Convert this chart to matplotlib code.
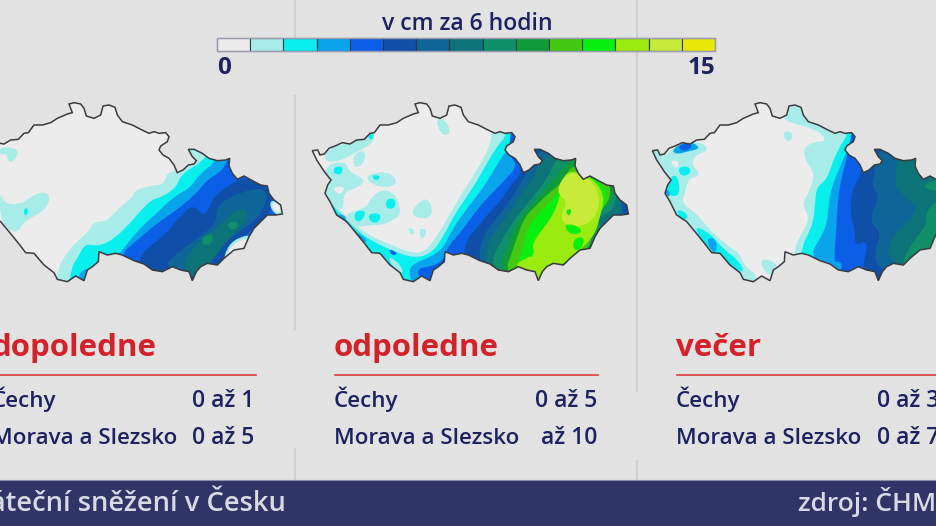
import matplotlib
matplotlib.use("Agg")
from matplotlib import pyplot as plt
from matplotlib.patches import PathPatch, Polygon, Rectangle
from matplotlib.path import Path

plt.rcParams['font.family'] = ['Open Sans', 'DejaVu Sans']

# legend
legend_title = "v cm za 6 hodin"
legend_min = "0"
legend_max = "15"
legend_colors = ["#ececec", "#a8ecea", "#08efee", "#0aa4ec", "#0a5fe6", "#0f4fa8", "#0e6698", "#0c7478",
                 "#109068", "#0f9c38", "#44c812", "#08f010", "#9bea10", "#c8ea38", "#eae808"]

# panel texts
periods = ["dopoledne", "odpoledne", "večer"]
regions = ["Čechy", "Morava a Slezsko"]
amounts_cechy = ["0 až 1", "0 až 5", "0 až 3"]
amounts_morava = ["0 až 5", "až 10", "0 až 7"]
footer_left = "Páteční sněžení v Česku"
footer_right = "zdroj: ČHMÚ"

# border of the country, map units (1/3 px)
border = [(22, 182), (38, 180), (45, 195), (58, 192), (72, 175), (90, 168), (112, 158), (135, 162), (155, 150),
          (178, 148), (195, 130), (208, 128), (225, 105), (250, 105), (275, 98), (295, 85), (325, 72), (340, 68),
          (330, 42), (345, 38), (365, 42), (375, 55), (382, 78), (405, 85), (425, 75), (432, 48), (450, 45),
          (468, 52), (475, 75), (490, 95), (520, 105), (545, 118), (570, 130), (585, 125), (600, 130), (620, 128),
          (630, 140), (625, 155), (605, 168), (600, 180), (612, 195), (630, 205), (645, 225), (655, 248), (672, 240),
          (688, 225), (705, 222), (712, 212), (700, 200), (688, 178), (705, 178), (730, 190), (750, 205), (775, 212),
          (800, 210), (812, 205), (810, 228), (820, 250), (835, 268), (855, 258), (880, 272), (905, 285), (925, 288),
          (930, 310), (945, 330), (965, 345), (970, 372), (950, 375), (925, 375), (905, 395), (885, 415), (870, 440),
          (855, 475), (825, 480), (795, 505), (775, 525), (745, 520), (725, 530), (712, 545), (700, 572), (690, 545),
          (665, 540), (640, 530), (610, 545), (580, 540), (555, 522), (525, 512), (490, 495), (470, 490), (445, 495),
          (420, 485), (418, 515), (400, 530), (385, 540), (375, 572), (350, 558), (325, 575), (295, 568), (285, 548),
          (255, 525), (225, 490), (200, 488), (180, 462), (150, 425), (125, 395), (95, 375), (75, 335), (60, 310),
          (68, 285), (78, 270), (58, 245), (45, 225), (35, 210)]

# snowfall zones, (legend class, outline), painted in this order
zones_morning = [
    (1, [(0, 170), (50, 175), (55, 195), (35, 218), (22, 210), (20, 190), (0, 195)]),
    (1, [(0, 300), (10, 340), (60, 345), (115, 305), (150, 312), (145, 345), (120, 370), (70, 395), (50, 435), (0, 395)]),
    (2, [(72, 355), (85, 355), (82, 376), (72, 376)]),
    (1, [(520, 215), (530, 240), (500, 250), (490, 285), (460, 285), (405, 300), (400, 320), (350, 360), (320, 395),
         (280, 395), (270, 420), (225, 460), (200, 490), (175, 530), (165, 600), (1000, 600), (1000, 100), (560, 100)]),
    (2, [(625, 205), (545, 250), (530, 290), (490, 320), (450, 330), (390, 400), (350, 440), (300, 470), (255, 460),
         (235, 500), (215, 530), (205, 600), (1000, 600), (1000, 100), (660, 100)]),
    (3, [(650, 215), (600, 250), (570, 295), (520, 320), (470, 370), (430, 405), (390, 450), (360, 490), (340, 490),
         (340, 600), (1000, 600), (1000, 100), (680, 100)]),
    (3, [(225, 565), (265, 525), (285, 600)]),
    (4, [(685, 230), (620, 270), (590, 310), (530, 360), (470, 400), (400, 460), (360, 495), (400, 600), (1000, 600),
         (1000, 100), (700, 100)]),
    (5, [(735, 260), (680, 290), (640, 320), (615, 385), (580, 340), (530, 390), (490, 440), (420, 490), (420, 530),
         (600, 600), (660, 520), (680, 490), (750, 420), (790, 400), (820, 340), (810, 295)]),
    (6, [(800, 295), (740, 300), (650, 340), (650, 400), (600, 440), (530, 490), (490, 530), (580, 570), (640, 510),
         (690, 440), (760, 400), (800, 340)]),
    (7, [(730, 350), (680, 380), (650, 420), (620, 430), (550, 510), (560, 545), (590, 570), (650, 490), (700, 430),
         (750, 380)]),
    (8, [(685, 395), (715, 395), (712, 418), (685, 418)]),
    (8, [(608, 438), (642, 432), (632, 465), (606, 465)]),
    (1, [(805, 330), (850, 335), (855, 378), (820, 372)]),
    (0, [(815, 335), (842, 345), (840, 370), (820, 362)]),
    (1, [(760, 435), (720, 440), (685, 465), (668, 515), (705, 500), (752, 485)]),
    (0, [(752, 445), (720, 450), (690, 472), (682, 495), (712, 490), (745, 476)]),
]

zones_afternoon = [
    (1, [(560, 120), (555, 170), (510, 250), (470, 310), (430, 380), (395, 440), (360, 485), (320, 490), (260, 465),
         (200, 440), (150, 405), (110, 365), (70, 320), (40, 200), (0, 200), (0, 650), (1100, 650), (1100, 0), (560, 0)]),
    (1, [(60, 190), (95, 165), (155, 155), (205, 130), (210, 155), (150, 190), (100, 215), (60, 215)]),
    (1, [(145, 190), (185, 180), (175, 225), (145, 235)]),
    (1, [(75, 220), (125, 215), (130, 245), (185, 270), (155, 295), (115, 305), (115, 365), (90, 345), (60, 310), (65, 280), (55, 250)]),
    (1, [(190, 250), (255, 245), (280, 280), (240, 295), (185, 275)]),
    (1, [(195, 325), (235, 295), (275, 315), (290, 375), (255, 395), (230, 405), (195, 405), (135, 415), (115, 370), (185, 355)]),
    (1, [(315, 362), (368, 315), (388, 380), (338, 388)]),
    (1, [(390, 90), (418, 85), (440, 128), (412, 140)]),
    (1, [(305, 412), (330, 418), (322, 440)]),
    (1, [(340, 415), (370, 418), (350, 455)]),
    (0, [(85, 290), (120, 290), (112, 310), (92, 310)]),
    (2, [(86, 230), (114, 230), (110, 254), (86, 252)]),
    (2, [(198, 254), (230, 258), (212, 275)]),
    (2, [(244, 326), (272, 326), (270, 356), (242, 356)]),
    (2, [(190, 370), (230, 370), (220, 400), (194, 395)]),
    (2, [(150, 362), (185, 362), (170, 395), (148, 392)]),
    (2, [(185, 130), (210, 130), (198, 155)]),
    (2, [(610, 130), (575, 170), (540, 230), (500, 300), (450, 370), (415, 440), (380, 490), (330, 505), (270, 485),
         (225, 465), (180, 440), (150, 415), (120, 385), (85, 350), (60, 310), (0, 310), (0, 650), (1100, 650), (1100, 0), (610, 0)]),
    (0, [(90, 295), (115, 295), (112, 310), (95, 310)]),
    (3, [(630, 155), (600, 185), (570, 235), (530, 300), (490, 350), (440, 420), (415, 475), (370, 505), (325, 520),
         (310, 545), (330, 600), (1100, 650), (1100, 0), (640, 0)]),
    (3, [(95, 370), (125, 378), (118, 402)]),
    (3, [(145, 420), (190, 450), (172, 462)]),
    (4, [(250, 475), (280, 490), (262, 498)]),
    (1, [(248, 495), (288, 525), (295, 555), (262, 530)]),
    (4, [(605, 190), (640, 225), (600, 270), (560, 310), (515, 360), (480, 410), (450, 445), (420, 485), (415, 510),
         (380, 530), (335, 535), (345, 565), (375, 600), (1100, 650), (1100, 0), (640, 0)]),
    (5, [(655, 245), (620, 280), (590, 330), (550, 370), (520, 410), (490, 440), (470, 500), (560, 650), (1100, 650), (1100, 0), (680, 0)]),
    (6, [(700, 170), (672, 240), (640, 290), (610, 340), (570, 390), (535, 435), (515, 520), (640, 650), (900, 500),
         (950, 400), (958, 370), (945, 320), (900, 200)]),
    (7, [(725, 195), (700, 225), (690, 260), (650, 310), (620, 360), (590, 400), (550, 450), (535, 530), (650, 650),
         (880, 470), (910, 395), (945, 372), (948, 340), (940, 270), (820, 180)]),
    (8, [(760, 195), (730, 260), (700, 300), (660, 350), (620, 400), (590, 450), (550, 530), (660, 650), (860, 480),
         (880, 430), (890, 400), (860, 385), (915, 370), (935, 330), (930, 270), (820, 180)]),
    (9, [(810, 200), (770, 240), (730, 290), (690, 335), (650, 375), (630, 410), (610, 470), (580, 545), (670, 650),
         (855, 470), (875, 400), (860, 375), (925, 340), (925, 280), (830, 220)]),
    (10, [(800, 225), (770, 280), (730, 310), (690, 350), (660, 380), (640, 430), (620, 490), (600, 545), (680, 640),
          (800, 510), (850, 480), (865, 420), (860, 375), (915, 340), (915, 265), (830, 240)]),
    (11, [(790, 240), (760, 310), (725, 345), (680, 395), (660, 440), (650, 500), (625, 545), (700, 630), (760, 530),
          (830, 480), (865, 400), (900, 350), (905, 300), (860, 255)]),
    (12, [(780, 235), (865, 262), (900, 320), (885, 380), (870, 435), (815, 490), (770, 525), (735, 535), (720, 590),
          (675, 560), (625, 525), (665, 505), (690, 490), (680, 465), (710, 420), (745, 375), (765, 320)]),
    (13, [(790, 240), (862, 270), (885, 320), (875, 380), (830, 412), (775, 405), (768, 370), (790, 335), (750, 305)]),
    (11, [(775, 402), (815, 405), (835, 428), (795, 435)]),
    (11, [(780, 360), (802, 356), (792, 382)]),
    (11, [(805, 445), (840, 440), (830, 478), (805, 482)]),
    (11, [(665, 490), (685, 485), (680, 505)]),
]

zones_evening = [
    (1, [(60, 205), (85, 170), (160, 150), (195, 180), (150, 195), (140, 225), (170, 255), (130, 265), (120, 310),
         (110, 340), (155, 370), (185, 410), (250, 470), (285, 490), (300, 530), (335, 555), (340, 600), (0, 600), (0, 150)]),
    (0, [(72, 212), (104, 212), (96, 240)]),
    (2, [(98, 232), (133, 228), (138, 252), (108, 260)]),
    (2, [(80, 255), (100, 260), (105, 318), (72, 318), (62, 300)]),
    (2, [(108, 358), (133, 380), (115, 393), (92, 365)]),
    (2, [(145, 405), (198, 432), (235, 478), (280, 510), (300, 550), (268, 535), (218, 495), (175, 460)]),
    (3, [(80, 178), (130, 150), (170, 175), (130, 184), (92, 194)]),
    (3, [(55, 295), (78, 305), (70, 325)]),
    (3, [(182, 448), (208, 442), (218, 472), (205, 495)]),
    (4, [(96, 170), (130, 156), (144, 172), (115, 186)]),
    (1, [(340, 506), (388, 512), (398, 538), (368, 560)]),
    (1, [(412, 126), (438, 122), (444, 148), (424, 156)]),
    (1, [(400, 85), (440, 40), (620, 40), (1100, 0), (1100, 650), (440, 650), (445, 480), (470, 430), (495, 385),
         (470, 345), (495, 300), (510, 250), (480, 210), (475, 175), (505, 155), (545, 155), (525, 125), (480, 110)]),
    (2, [(610, 130), (590, 160), (565, 210), (545, 270), (515, 290), (510, 340), (505, 395), (490, 430), (465, 485),
         (470, 650), (1100, 650), (1100, 0), (620, 0)]),
    (3, [(630, 150), (605, 185), (585, 230), (560, 290), (550, 350), (545, 410), (510, 470), (500, 495), (560, 650),
         (1100, 650), (1100, 0), (650, 0)]),
    (4, [(610, 190), (590, 260), (578, 330), (575, 400), (570, 470), (568, 510), (590, 650), (1100, 650), (1100, 0), (640, 0)]),
    (3, [(566, 512), (592, 518), (588, 544), (568, 540)]),
    (5, [(655, 245), (620, 300), (615, 370), (630, 420), (630, 470), (665, 450), (665, 490), (650, 530), (680, 650),
         (1100, 650), (1100, 0), (660, 0)]),
    (6, [(690, 170), (690, 250), (680, 290), (705, 320), (670, 390), (710, 430), (690, 470), (695, 550), (1100, 650), (1100, 0)]),
    (7, [(755, 180), (755, 270), (750, 290), (790, 330), (820, 350), (785, 400), (740, 440), (720, 520), (1100, 650), (1100, 0)]),
    (8, [(885, 265), (825, 290), (885, 308)]),
    (8, [(890, 315), (838, 370), (850, 400), (785, 480), (772, 535), (890, 620)]),
]

panel_zones = [zones_morning, zones_afternoon, zones_evening]


def smooth_path(pts):
    # rounded closed outline, the given points act as curve controls
    mids = [((pts[i][0] + pts[(i + 1) % len(pts)][0]) / 2, (pts[i][1] + pts[(i + 1) % len(pts)][1]) / 2)
            for i in range(len(pts))]
    verts = [mids[-1]]
    codes = [Path.MOVETO]
    for i in range(len(pts)):
        verts += [pts[i], mids[i]]
        codes += [Path.CURVE3, Path.CURVE3]
    return Path(verts, codes)


W, H = 936, 526
fig = plt.figure(figsize=(W / 100, H / 100), dpi=100, facecolor="#e2e2e2")
ax = fig.add_axes([0, 0, 1, 1])
ax.set_xlim(0, W)
ax.set_ylim(H, 0)
ax.axis("off")

navy = "#1d2262"
red = "#d2232a"

# panel separators
for x, spans in [(295, [(0, 40), (95, 330), (448, 480)]), (637, [(0, 392), (460, 480)])]:
    for y0, y1 in spans:
        ax.plot([x, x], [y0, y1], color="#d0d0d0", lw=1.6, solid_capstyle="butt", zorder=1)

# maps
zone_x = [0, 305, 645]
border_x = [-41, 305, 645]
map_y = 90
for i in range(3):
    outline = [(border_x[i] + x / 3, map_y + y / 3) for x, y in border]
    clip = Polygon(outline, closed=True, facecolor=legend_colors[0], edgecolor="none", zorder=2)
    ax.add_patch(clip)
    for level, pts in panel_zones[i]:
        poly = PathPatch(smooth_path([(zone_x[i] + x / 3, map_y + y / 3) for x, y in pts]),
                         facecolor=legend_colors[level], edgecolor="none", zorder=3)
        ax.add_patch(poly)
        poly.set_clip_path(clip)
    ax.add_patch(Polygon(outline, closed=True, facecolor="none", edgecolor="#3c3c40", lw=1.1, zorder=4))

# legend
bar_x, bar_w = 217, 498 / 15
for i, c in enumerate(legend_colors):
    ax.add_patch(Rectangle((bar_x + i * bar_w, 38), bar_w, 13, facecolor=c, edgecolor="#2b3a40", lw=0.8, zorder=5))
ax.add_patch(Rectangle((bar_x, 38), 15 * bar_w, 13, facecolor="none", edgecolor="#9a9ab0", lw=1.0, zorder=6))
ax.text(467, 30, legend_title, ha="center", va="baseline", color=navy, fontsize=16.6, fontweight="semibold", zorder=6)
ax.text(217, 74, legend_min, ha="left", va="baseline", color=navy, fontsize=17.5, fontweight="bold", zorder=6)
ax.text(715, 74, legend_max, ha="right", va="baseline", color=navy, fontsize=17.5, fontweight="bold", zorder=6)

# panel captions
text_x = [-8, 334, 676]
value_x = [254, 597, 939]
line_span = [(0, 256), (335, 598), (677, 936)]
for i in range(3):
    ax.text(text_x[i], 356, periods[i], ha="left", va="baseline", color=red, fontsize=22.5, fontweight="bold")
    ax.plot(line_span[i], [374.5, 374.5], color="#dc3a3a", lw=1.2)
    ax.text(text_x[i], 407, regions[0], ha="left", va="baseline", color=navy, fontsize=16.1, fontweight="semibold")
    ax.text(text_x[i], 444, regions[1], ha="left", va="baseline", color=navy, fontsize=16.1, fontweight="semibold")
    ax.text(value_x[i], 407, amounts_cechy[i], ha="right", va="baseline", color=navy, fontsize=16.5, fontweight="semibold")
    ax.text(value_x[i], 444, amounts_morava[i], ha="right", va="baseline", color=navy, fontsize=16.5, fontweight="semibold")

# bottom band
ax.add_patch(Rectangle((0, 480), W, 46, facecolor="#2f3566", edgecolor="none", zorder=7))
ax.plot([0, W], [480, 480], color="#8a8ea8", lw=0.8, zorder=8)
ax.plot([0, W], [525.5, 525.5], color="#6a2a50", lw=1.0, zorder=8)
ax.text(286, 511, footer_left, ha="right", va="baseline", color="#d8dbe6", fontsize=19.6, fontweight="semibold", zorder=9)
ax.text(798, 511, footer_right, ha="left", va="baseline", color="#d8dbe6", fontsize=19, fontweight="semibold", zorder=9)

fig.savefig("out.png", dpi=100, facecolor=fig.get_facecolor())
plt.close(fig)
